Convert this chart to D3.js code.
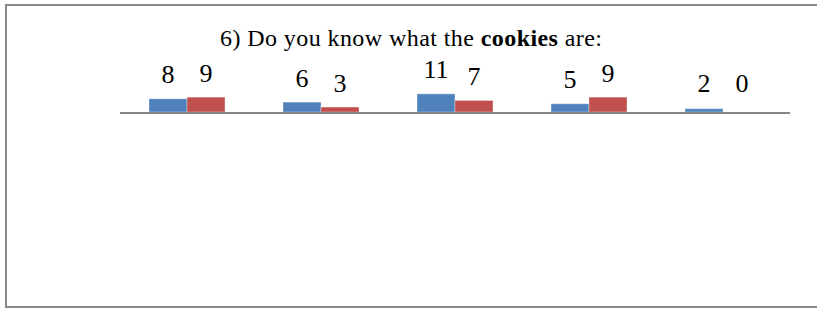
<!DOCTYPE html>
<meta charset="utf-8">
<style>
body{ margin:0; background:#fff; }
text{ font-family:"Liberation Serif","Times New Roman",serif; fill:#000; }
</style>
<svg id="chart" width="817" height="310"></svg>
<script src="https://d3js.org/d3.v7.min.js"></script>
<script>

// data (category names are not shown on the chart)
var categories = ["1", "2", "3", "4", "5"];
var seriesNames = ["Series1", "Series2"];
var series1 = [8, 6, 11, 5, 2];
var series2 = [9, 3, 7, 9, 0];
var seriesColors = ["#4f81bd", "#c0504d"];

var svg = d3.select("#chart");

// outer frame
svg.append("rect")
  .attr("x",6)
  .attr("y",5)
  .attr("width",830)
  .attr("height",302)
  .attr("fill","none")
  .attr("stroke","#8a8a8a")
  .attr("stroke-width",2);

// title
var title = svg.append("text")
  .attr("x",220)
  .attr("y",46)
  .attr("textLength",382)
  .attr("lengthAdjust","spacing")
  .style("font-size","24px");
title.append("tspan").text("6) Do you know what the ");
title.append("tspan").style("font-weight","bold").text("cookies");
title.append("tspan").text(" are:");

var x0 = d3.scaleBand()
  .domain(categories)
  .range([120, 790])
  .paddingInner(0.433)
  .paddingOuter(0.2165);

var x1 = d3.scaleBand()
  .domain(seriesNames)
  .range([0, x0.bandwidth()]);

var y = d3.scaleLinear()
  .domain([0, 11])
  .range([112, 93.85]);

var rows = categories.map(function(c, i){
  return {cat: c, vals: [series1[i], series2[i]]};
});

var groups = svg.selectAll(".grp")
  .data(rows)
  .enter().append("g")
  .attr("class","grp")
  .attr("transform", function(d){ return "translate(" + x0(d.cat) + ",0)"; });

var cells = groups.selectAll(".cell")
  .data(function(d){ return d.vals.map(function(v, j){ return {v: v, s: seriesNames[j], j: j}; }); })
  .enter();

cells.append("rect")
  .attr("x", function(d){ return x1(d.s); })
  .attr("y", function(d){ return y(d.v); })
  .attr("width", x1.bandwidth())
  .attr("height", function(d){ return y(0) - y(d.v); })
  .attr("fill", function(d){ return seriesColors[d.j]; })
  .attr("stroke", "#fff")
  .attr("stroke-opacity", 0.35)
  .attr("stroke-width", 1);

// value labels, kept a bit higher for the smallest bars
cells.append("text")
  .attr("x", function(d){ return x1(d.s) + x1.bandwidth()/2; })
  .attr("y", function(d){ return Math.min(y(d.v), y(3)) - 15.5; })
  .attr("text-anchor","middle")
  .style("font-size","26px")
  .text(function(d){ return d.v; });

// category axis line
svg.append("line")
  .attr("x1", x0.range()[0])
  .attr("x2", x0.range()[1])
  .attr("y1", y(0) + 1)
  .attr("y2", y(0) + 1)
  .attr("stroke","#868686")
  .attr("stroke-width",2);

</script>
